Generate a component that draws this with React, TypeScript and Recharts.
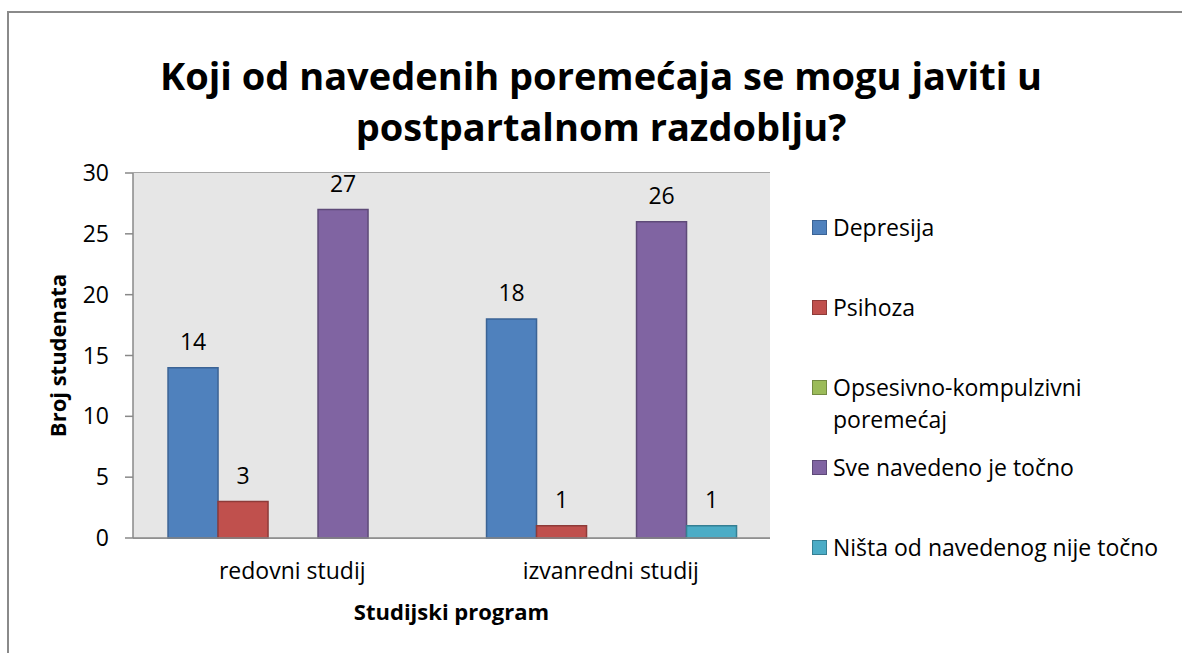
import { BarChart, Bar, XAxis, YAxis, CartesianGrid, LabelList, Label } from 'recharts';

const categories = ['redovni studij', 'izvanredni studij'];
const depresija = [14, 18];
const psihoza = [3, 1];
const opsesivno = [0, 0];
const sveNavedeno = [27, 26];
const nistaOd = [0, 1];

const yTicks = [0, 5, 10, 15, 20, 25, 30];

const series = [
    { key: 'depresija', name: 'Depresija', values: depresija, fill: '#4f81bd', stroke: '#3b6395' },
    { key: 'psihoza', name: 'Psihoza', values: psihoza, fill: '#c0504d', stroke: '#8e3b39' },
    { key: 'opsesivno', name: 'Opsesivno-kompulzivni poremećaj', values: opsesivno, fill: '#9bbb59', stroke: '#738b42' },
    { key: 'sve', name: 'Sve navedeno je točno', values: sveNavedeno, fill: '#8064a2', stroke: '#5e4a78' },
    { key: 'nista', name: 'Ništa od navedenog nije točno', values: nistaOd, fill: '#4bacc6', stroke: '#357f93' },
];

const FONT = '"Open Sans", sans-serif';

export default function App() {
    const data = categories.map((c, i) => {
        const row: any = { category: c };
        series.forEach(s => { row[s.key] = s.values[i]; });
        return row;
    });

    return (
        <div style={{ position: 'absolute', left: 0, top: 0, width: 1182, height: 653, background: '#fff', fontFamily: FONT, overflow: 'hidden' }}>
            <div style={{ position: 'absolute', left: 7, top: 11, width: 1200, height: 700, borderLeft: '2px solid #8a8a8a', borderTop: '2px solid #8a8a8a' }} />
            <div style={{ position: 'absolute', left: 0, top: 50, width: 1202, textAlign: 'center', fontWeight: 700, fontSize: 38, lineHeight: '51px', color: '#000' }}>
                Koji od navedenih poremećaja se mogu javiti u<br />postpartalnom razdoblju?
            </div>
            <div style={{ position: 'absolute', left: 0, top: 0 }}>
                <BarChart width={1182} height={653} data={data} barCategoryGap="11%" barGap={0}
                    margin={{ top: 173, right: 412, bottom: 25, left: 0 }}>
                    <rect x={133} y={173} width={637} height={365} fill="#e6e6e6" />
                    <CartesianGrid vertical={false} stroke="#888888" strokeWidth={1.5} fill="#e6e6e6" />
                    <XAxis dataKey="category" height={90} tickLine={false} tickSize={0} tickMargin={25}
                        axisLine={{ stroke: '#888888', strokeWidth: 1.5 }}
                        tick={{ fill: '#000', fontSize: 23, fontFamily: FONT }}>
                        <Label value="Studijski program" position="insideBottom" offset={8}
                            style={{ fill: '#000', fontSize: 22, fontWeight: 700, fontFamily: FONT }} />
                    </XAxis>
                    <YAxis width={133} domain={[0, 30]} ticks={yTicks} interval={0} tickSize={8} tickMargin={16}
                        axisLine={{ stroke: '#888888', strokeWidth: 1.5 }}
                        tickLine={{ stroke: '#888888', strokeWidth: 1.5 }}
                        tick={{ fill: '#000', fontSize: 23, fontFamily: FONT }}>
                        <Label value="Broj studenata" angle={-90} position="center" dx={-8}
                            style={{ fill: '#000', fontSize: 22, fontWeight: 700, fontFamily: FONT, textAnchor: 'middle' }} />
                    </YAxis>
                    {series.map(s => (
                        <Bar key={s.key} dataKey={s.key} name={s.name} fill={s.fill} stroke={s.stroke} strokeWidth={1.5} isAnimationActive={false}>
                            <LabelList dataKey={s.key} position="top" offset={18}
                                formatter={(v: any) => (v ? v : '')}
                                style={{ fill: '#000', fontSize: 23, fontFamily: FONT }} />
                        </Bar>
                    ))}
                </BarChart>
            </div>
            {series.map((s, i) => (
                <div key={s.key} style={{ position: 'absolute', left: 812, top: 227 + i * 80 - 16, width: 365, display: 'flex', alignItems: 'flex-start', fontSize: 23, lineHeight: '32px', color: '#000' }}>
                    <div style={{ width: 13, height: 13, marginTop: 9, marginRight: 6, background: s.fill, border: `1.5px solid ${s.stroke}`, flex: 'none' }} />
                    <div style={{ width: 335 }}>{s.name}</div>
                </div>
            ))}
        </div>
    );
}
